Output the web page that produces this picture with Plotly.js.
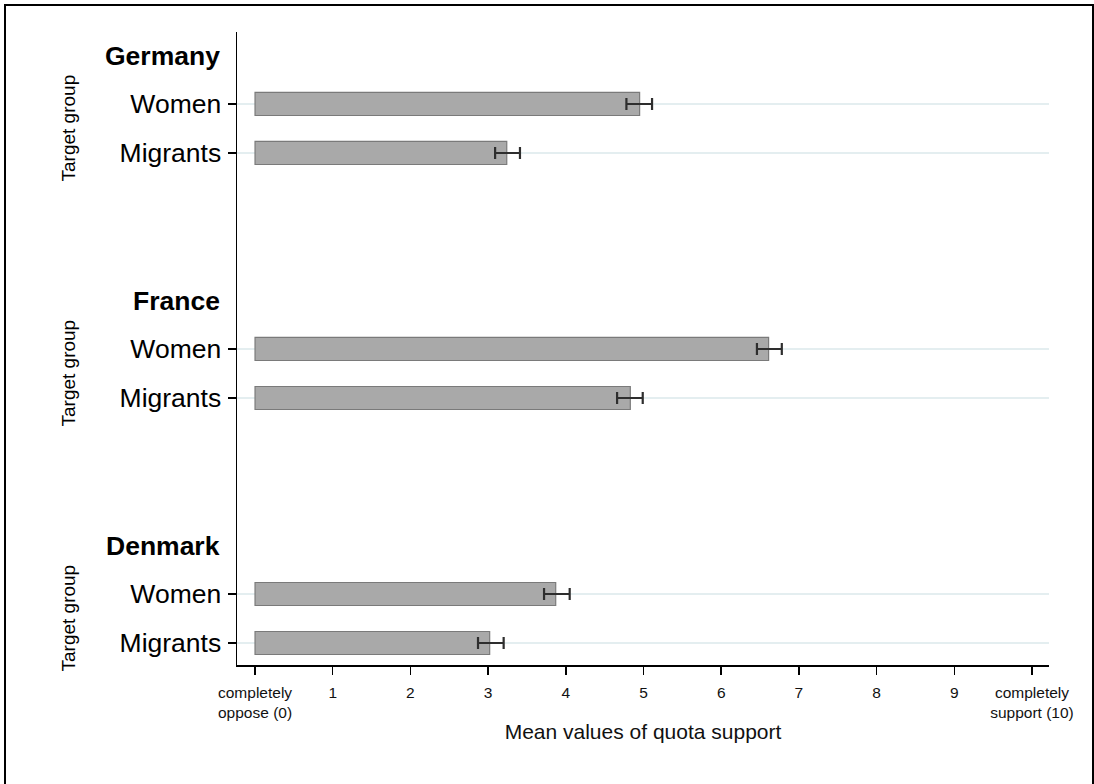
<!DOCTYPE html>
<html>
<head>
<meta charset="utf-8">
<script src="https://cdn.plot.ly/plotly-3.0.1.min.js"></script>
<style>
html,body{margin:0;padding:0;background:#fff;}
#wrap{position:relative;width:1094px;height:784px;}
#chart{position:absolute;left:0;top:0;width:1094px;height:784px;}
#frame{position:absolute;left:4px;top:4px;width:1086px;height:800px;border:2px solid #000;pointer-events:none;}
</style>
</head>
<body>
<div id="wrap"><div id="chart"></div><div id="frame"></div></div>
<script>
// Data
const countries = ["Germany", "France", "Denmark"];
const groups = ["Women", "Migrants"];
const meanValues = [
  [4.95, 3.24],   // Germany
  [6.61, 4.83],   // France
  [3.87, 3.02]    // Denmark
];
const ciLow = [
  [4.78, 3.09],
  [6.46, 4.66],
  [3.72, 2.87]
];
const ciHigh = [
  [5.11, 3.41],
  [6.78, 4.99],
  [4.05, 3.20]
];
const xTickVals = [0,1,2,3,4,5,6,7,8,9,10];
const xTickText = ["completely<br>oppose (0)","1","2","3","4","5","6","7","8","9","completely<br>support (10)"];
const xTitle = "Mean values of quota support";
const yTitle = "Target group";

// Build positions (each country block: header row, two group rows, two gap rows)
const FONT = "Liberation Sans, Arial, sans-serif";
const ys = [], xs = [], plus = [], minus = [], tickVals = [], tickText = [];
const annotations = [];
countries.forEach((c, i) => {
  const base = i * 5;
  annotations.push({
    text: "<b>" + c + "</b>", xref: "paper", yref: "y", x: 0, y: base,
    xanchor: "right", yanchor: "middle", xshift: -15, yshift: -1, showarrow: false,
    font: {family: FONT, size: 26.5, color: "#000"}
  });
  annotations.push({
    text: yTitle, xref: "paper", yref: "y", x: 0, y: base + 1.5,
    xanchor: "center", yanchor: "middle", xshift: -169, textangle: -90, showarrow: false,
    font: {family: FONT, size: 19, color: "#000"}
  });
  groups.forEach((g, j) => {
    const y = base + 1 + j;
    ys.push(y);
    xs.push(meanValues[i][j]);
    plus.push(ciHigh[i][j] - meanValues[i][j]);
    minus.push(meanValues[i][j] - ciLow[i][j]);
    tickVals.push(y);
    tickText.push(g);
  });
});

const trace = {
  type: "bar", orientation: "h", x: xs, y: ys, width: 0.47,
  marker: {color: "#a9a9a9", line: {color: "#7a7a7a", width: 1.2}},
  error_x: {type: "data", symmetric: false, array: plus, arrayminus: minus,
            color: "#2e2e2e", thickness: 2.2, width: 6},
  hoverinfo: "x+y"
};

const layout = {
  width: 1094, height: 784,
  margin: {l: 237, r: 45, t: 32, b: 119, pad: 0},
  paper_bgcolor: "rgba(0,0,0,0)", plot_bgcolor: "#fff",
  showlegend: false,
  font: {family: FONT, color: "#000"},
  xaxis: {
    range: [-0.232, 10.219], tickvals: xTickVals, ticktext: xTickText,
    ticks: "outside", ticklen: 8, tickwidth: 1.5, tickcolor: "#000",
    showline: true, linecolor: "#000", linewidth: 1.5,
    showgrid: false, zeroline: false,
    tickfont: {family: FONT, size: 15.5, color: "#111"},
    ticklabelstandoff: 5,
    title: {text: xTitle, font: {family: FONT, size: 21, color: "#111"}, standoff: 4}
  },
  yaxis: {
    range: [12.449, -0.469], tickvals: tickVals, ticktext: tickText,
    ticks: "outside", ticklen: 8, tickwidth: 1.5, tickcolor: "#000",
    showline: true, linecolor: "#000", linewidth: 1.5,
    showgrid: true, gridcolor: "#e4eef0", gridwidth: 1.5, zeroline: false,
    tickfont: {family: FONT, size: 26.5, color: "#000"},
    ticklabelstandoff: 1
  },
  annotations: annotations
};

Plotly.newPlot("chart", [trace], layout, {displayModeBar: false, staticPlot: true});
</script>
</body>
</html>
